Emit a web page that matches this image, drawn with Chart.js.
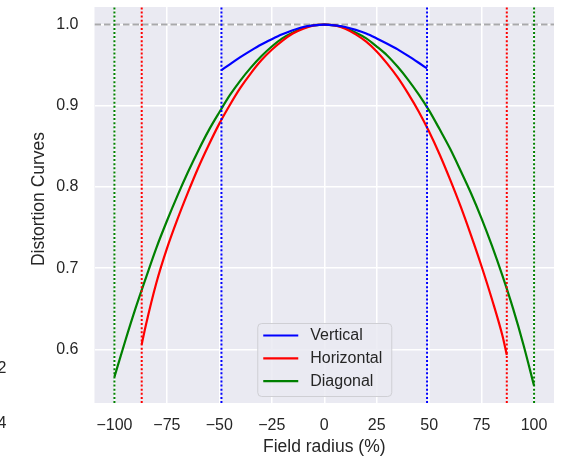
<!DOCTYPE html>
<html>
<head>
<meta charset="utf-8">
<title>Distortion Curves</title>
<script src="https://cdn.jsdelivr.net/npm/chart.js@4.4.1/dist/chart.umd.min.js"></script>
<style>
  html, body { margin: 0; padding: 0; background: #ffffff; }
  #wrap { width: 563px; height: 456px; position: relative; }
</style>
</head>
<body>
<div id="wrap"><canvas id="chart" width="563" height="456"></canvas></div>
<script>
// Axis ticks and limits
const xTicks = [-100, -75, -50, -25, 0, 25, 50, 75, 100];
const yTicks = [0.6, 0.7, 0.8, 0.9, 1.0];
const xLimits = [-109.5, 109.5];
const yLimits = [0.5338, 1.0217];
const referenceLevel = 1.0;
const xTitle = 'Field radius (%)';
const yTitle = 'Distortion Curves';

// Vertical distortion curve
const verticalX = [-49, -45, -40, -35, -30, -25, -20, -15, -10, -5, 0, 5, 10, 15, 20, 25, 30, 35, 40, 45, 49];
const verticalY = [0.944, 0.951, 0.960, 0.968, 0.9755, 0.982, 0.988, 0.993, 0.997, 0.999, 1.000,
                   0.999, 0.997, 0.9935, 0.989, 0.983, 0.9765, 0.9695, 0.9615, 0.953, 0.946];

// Horizontal distortion curve
const horizontalX = [-87, -85, -80, -75, -70, -65, -60, -55, -50, -45, -40, -35, -30, -25, -20, -15, -10, -5, 0,
                     5, 10, 15, 20, 25, 30, 35, 40, 45, 50, 55, 60, 65, 70, 75, 80, 85, 87];
const horizontalY = [0.606, 0.630, 0.682, 0.724, 0.760, 0.793, 0.824, 0.852, 0.878, 0.901, 0.922, 0.940, 0.956,
                     0.969, 0.980, 0.989, 0.995, 0.999, 1.000,
                     0.999, 0.995, 0.988, 0.979, 0.967, 0.952, 0.935, 0.915, 0.893, 0.868, 0.840, 0.809,
                     0.776, 0.740, 0.702, 0.661, 0.616, 0.593];

// Diagonal distortion curve
const diagonalX = [-100, -95, -90, -85, -80, -75, -70, -65, -60, -55, -50, -45, -40, -35, -30, -25, -20, -15, -10, -5, 0,
                   5, 10, 15, 20, 25, 30, 35, 40, 45, 50, 55, 60, 65, 70, 75, 80, 85, 90, 95, 100];
const diagonalY = [0.566, 0.609, 0.650, 0.688, 0.725, 0.758, 0.789, 0.818, 0.845, 0.870, 0.892, 0.913, 0.931,
                   0.947, 0.961, 0.973, 0.983, 0.990, 0.996, 0.999, 1.000,
                   0.999, 0.996, 0.990, 0.983, 0.973, 0.962, 0.948, 0.932, 0.914, 0.894, 0.871, 0.847,
                   0.820, 0.792, 0.761, 0.727, 0.690, 0.650, 0.605, 0.555];

const seriesLabels = ['Vertical', 'Horizontal', 'Diagonal'];
const seriesColors = ['#0000ff', '#ff0000', '#008000'];
const seriesX = [verticalX, horizontalX, diagonalX];
const seriesY = [verticalY, horizontalY, diagonalY];

const FONT = "'Liberation Sans', Arial, Helvetica, sans-serif";
const TEXT = '#262626';

const toPoints = (xs, ys) => xs.map((x, i) => ({ x: x, y: ys[i] }));

// Dotted extent markers at both ends of every curve
const extentSets = [];
seriesX.forEach((xs, s) => {
  [xs[0], xs[xs.length - 1]].forEach(x => {
    extentSets.push({
      data: [{ x: x, y: yLimits[0] }, { x: x, y: yLimits[1] }],
      borderColor: seriesColors[s],
      borderWidth: 2,
      borderDash: [2, 2.1],
      borderCapStyle: 'butt',
      pointRadius: 0,
      showLine: true
    });
  });
});

const curveSets = seriesLabels.map((label, s) => ({
  label: label,
  data: toPoints(seriesX[s], seriesY[s]),
  borderColor: seriesColors[s],
  backgroundColor: seriesColors[s],
  borderWidth: 2.2,
  pointRadius: 0,
  showLine: true,
  cubicInterpolationMode: 'monotone'
}));

const referenceSet = {
  data: [{ x: xLimits[0], y: referenceLevel }, { x: xLimits[1], y: referenceLevel }],
  borderColor: '#a9a9ab',
  borderWidth: 2,
  borderDash: [6.5, 3],
  borderCapStyle: 'butt',
  pointRadius: 0,
  showLine: true
};

// Plot panel background
const panelBackground = {
  id: 'panelBackground',
  beforeDraw(chart) {
    const { ctx, chartArea: a } = chart;
    ctx.save();
    ctx.fillStyle = '#eaeaf2';
    ctx.fillRect(a.left, a.top, a.right - a.left, a.bottom - a.top);
    ctx.restore();
  }
};

// Legend box drawn inside the plot, lower centre
const innerLegend = {
  id: 'innerLegend',
  afterDatasetsDraw(chart) {
    const { ctx, chartArea: a } = chart;
    const entries = chart.data.datasets.filter(d => d.label);
    const w = 134, rowH = 22.8, h = 73;
    const left = (a.left + a.right) / 2 - w / 2;
    const top = a.bottom - 7 - h;
    ctx.save();
    ctx.beginPath();
    ctx.roundRect(left + 0.5, top + 0.5, w, h, 4);
    ctx.fillStyle = 'rgba(234,234,242,0.85)';
    ctx.fill();
    ctx.strokeStyle = '#cfcfd4';
    ctx.lineWidth = 1;
    ctx.stroke();
    ctx.font = '16px ' + FONT;
    ctx.textBaseline = 'middle';
    ctx.textAlign = 'left';
    entries.forEach((d, i) => {
      const y = top + 12.5 + i * rowH;
      ctx.beginPath();
      ctx.moveTo(left + 6, y);
      ctx.lineTo(left + 41, y);
      ctx.strokeStyle = d.borderColor;
      ctx.lineWidth = 2.2;
      ctx.stroke();
      ctx.fillStyle = TEXT;
      ctx.fillText(d.label, left + 53, y + 0.5);
    });
    ctx.restore();
  }
};

// Rotated y-axis title and the tick digits of the neighbouring panel at the left edge
const sideText = {
  id: 'sideText',
  afterDraw(chart) {
    const { ctx, chartArea: a } = chart;
    ctx.save();
    ctx.fillStyle = TEXT;
    ctx.font = '17.5px ' + FONT;
    ctx.textAlign = 'center';
    ctx.textBaseline = 'middle';
    ctx.translate(39.5, (a.top + a.bottom) / 2 - 6);
    ctx.rotate(-Math.PI / 2);
    ctx.fillText(yTitle, 0, 0);
    ctx.restore();

    ctx.save();
    ctx.font = '16px ' + FONT;
    ctx.fillStyle = TEXT;
    ctx.textAlign = 'right';
    ctx.textBaseline = 'middle';
    ctx.fillText('2', 6.5, 369);
    ctx.fillText('4', 6.5, 424);
    ctx.restore();
  }
};

const minus = v => String(v).replace('-', '\u2212');

new Chart(document.getElementById('chart'), {
  type: 'scatter',
  data: { datasets: [...extentSets, ...curveSets, referenceSet] },
  options: {
    responsive: false,
    animation: false,
    devicePixelRatio: 1,
    layout: { padding: { top: 7, right: 9, left: 0, bottom: 0 } },
    plugins: {
      legend: { display: false },
      tooltip: { enabled: false }
    },
    scales: {
      x: {
        type: 'linear',
        min: xLimits[0],
        max: xLimits[1],
        afterBuildTicks: s => { s.ticks = xTicks.map(v => ({ value: v })); },
        afterFit: s => { s.height = 53; s.paddingLeft = 0; s.paddingRight = 0; },
        grid: { color: '#ffffff', lineWidth: 1.5, drawTicks: false },
        border: { display: false },
        ticks: {
          padding: 13,
          color: TEXT,
          font: { family: FONT, size: 16 },
          maxRotation: 0,
          callback: v => minus(v)
        },
        title: {
          display: true,
          text: xTitle,
          color: TEXT,
          font: { family: FONT, size: 17.5 },
          padding: { top: 0, bottom: -2 }
        }
      },
      y: {
        type: 'linear',
        min: yLimits[0],
        max: yLimits[1],
        afterBuildTicks: s => { s.ticks = yTicks.map(v => ({ value: v })); },
        afterFit: s => { s.width = 94.5; s.paddingTop = 0; s.paddingBottom = 0; },
        grid: { color: '#ffffff', lineWidth: 1.5, drawTicks: false },
        border: { display: false },
        ticks: {
          padding: 16,
          color: TEXT,
          font: { family: FONT, size: 16 },
          callback: v => Number(v).toFixed(1)
        },
        title: { display: false }
      }
    }
  },
  plugins: [panelBackground, innerLegend, sideText]
});
</script>
</body>
</html>
